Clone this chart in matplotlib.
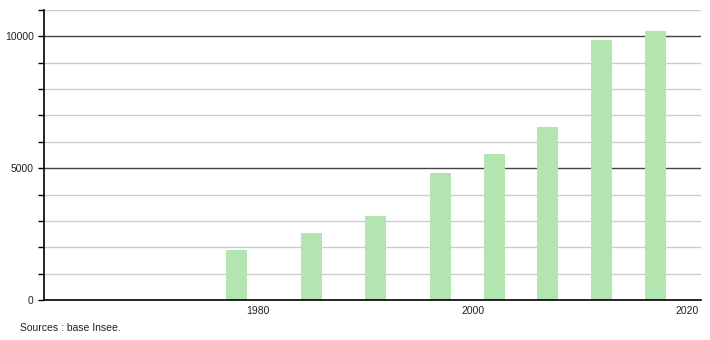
import matplotlib.pyplot as plt
from matplotlib.ticker import MultipleLocator

plt.rcParams['font.family'] = ['Liberation Sans', 'DejaVu Sans']

# census years (bar centres) and population
years = [1978, 1985, 1991, 1997, 2002, 2007, 2012, 2017]
population = [1900, 2560, 3190, 4830, 5550, 6580, 9850, 10190]

xticks = [1980, 2000, 2020]
yticks = [0, 5000, 10000]

fig = plt.figure(figsize=(7.1, 3.4), dpi=100)
ax = fig.add_axes([0.0613, 0.1176, 0.9261, 0.853])

ax.bar(years, population, width=1.95, color='#b3e5b1', zorder=3)

ax.set_xlim(1960.09, 2021.26)
ax.set_ylim(0, 11000)

# grid: light every 1000, dark every 5000
for v in range(1000, 11001, 1000):
    if v % 5000 == 0:
        ax.axhline(v, color='#444444', lw=1.0, zorder=1)
    else:
        ax.axhline(v, color='#cccccc', lw=1.0, zorder=1)

ax.set_xticks(xticks)
ax.set_xticklabels([str(t) for t in xticks])
ax.set_yticks(yticks)
ax.set_yticklabels([str(t) for t in yticks])
ax.yaxis.set_minor_locator(MultipleLocator(1000))

ax.tick_params(axis='x', length=0, pad=4, labelsize=7.5, colors='#222222')
ax.tick_params(axis='y', which='both', length=4, width=1, direction='out',
               pad=3, labelsize=7.5, colors='#222222')
ax.tick_params(axis='y', which='both', color='black')

for s in ['top', 'right']:
    ax.spines[s].set_visible(False)
for s in ['left', 'bottom']:
    ax.spines[s].set_color('black')
    ax.spines[s].set_linewidth(1.2)
    ax.spines[s].set_zorder(4)

fig.text(20 / 710, 1 - 328 / 340, 'Sources : base Insee.', fontsize=7.5,
         color='#222222', va='center', ha='left')

fig.savefig('out.png', dpi=100)
